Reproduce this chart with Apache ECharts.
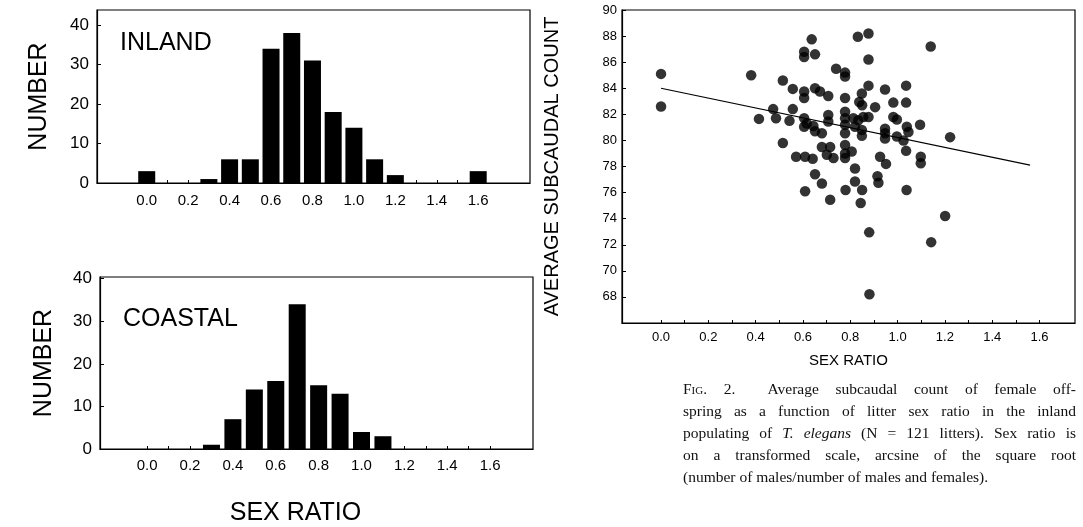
<!DOCTYPE html>
<html>
<head>
<meta charset="utf-8">
<script src="https://cdn.jsdelivr.net/npm/echarts@6/dist/echarts.min.js"></script>
<style>
html, body { margin: 0; padding: 0; background: #fff; }
#chart { position: absolute; left: 0; top: 0; width: 1083px; height: 527px; }
.caption {
  position: absolute; left: 683px; top: 378px; width: 393px;
  font-family: "Liberation Serif", serif; font-size: 15.5px; line-height: 22px; color: #111;
}
.caption div { text-align: justify; text-align-last: justify; white-space: nowrap; }
.caption div.last { text-align-last: left; }
.sc { font-variant: small-caps; }
</style>
</head>
<body>
<div id="chart"></div>
<div class="caption">
  <div><span class="sc">Fig. 2.</span>&nbsp; Average subcaudal count of female off-</div>
  <div>spring as a function of litter sex ratio in the inland</div>
  <div>populating of <i>T. elegans</i> (N = 121 litters). Sex ratio is</div>
  <div>on a transformed scale, arcsine of the square root</div>
  <div class="last">(number of males/number of males and females).</div>
</div>
<script>
// histogram bins (sex ratio, transformed)
var binCenters = [0.0, 0.1, 0.2, 0.3, 0.4, 0.5, 0.6, 0.7, 0.8, 0.9, 1.0, 1.1, 1.2, 1.3, 1.4, 1.5, 1.6];
var inlandCounts = [3, 0, 0, 1, 6, 6, 34, 38, 31, 18, 14, 6, 2, 0, 0, 0, 3];
var coastalCounts = [0, 0, 0, 1, 7, 14, 16, 34, 15, 13, 4, 3, 0, 0, 0, 0, 0];
var ratioTicks = [0.0, 0.2, 0.4, 0.6, 0.8, 1.0, 1.2, 1.4, 1.6];
var countTicks = [0, 10, 20, 30, 40];

// scatter: inland litters
var sexRatio = [
  0.0, 0.0, 0.381, 0.414, 0.474, 0.486, 0.515, 0.515, 0.557, 0.557,
  0.543, 0.571, 0.609, 0.641, 0.605, 0.605, 0.651, 0.637, 0.832, 0.877,
  1.140, 0.877, 0.740, 0.778, 0.778, 0.877, 0.605, 0.605, 0.651, 0.672,
  0.707, 0.778, 0.849, 0.838, 0.850, 0.947, 1.036, 0.905, 0.982, 1.036,
  0.605, 0.616, 0.605, 0.644, 0.651, 0.680, 0.707, 0.707, 0.778, 0.778,
  0.778, 0.778, 0.813, 0.834, 0.855, 0.877, 0.820, 0.849, 0.849, 0.982,
  0.997, 0.947, 0.947, 0.947, 1.039, 1.046, 1.095, 0.997, 1.025, 1.222,
  0.680, 0.715, 0.701, 0.729, 0.778, 0.778, 0.778, 0.806, 0.926, 0.951,
  1.036, 1.098, 1.098, 0.820, 0.651, 0.680, 0.820, 0.915, 0.919, 0.609,
  0.715, 0.780, 0.850, 1.038, 0.844, 1.201, 0.880, 1.142, 0.881
];
var subcaudal = [
  85.1, 82.6, 85.0, 81.65, 82.4, 81.7, 84.6, 79.8, 83.95, 82.4,
  81.5, 78.75, 78.75, 78.6, 86.8, 86.4, 86.6, 87.75, 87.95, 88.2,
  87.2, 86.2, 85.5, 85.2, 84.9, 84.2, 83.75, 83.25, 84.0, 83.75,
  83.4, 83.25, 83.6, 82.95, 82.7, 83.9, 84.2, 82.55, 82.9, 82.9,
  81.7, 81.3, 81.05, 81.1, 80.7, 80.55, 81.95, 81.45, 82.2, 81.7,
  81.2, 80.55, 81.7, 81.55, 81.8, 81.8, 81.05, 80.8, 80.35, 81.8,
  81.6, 80.9, 80.55, 80.15, 81.05, 80.65, 81.2, 80.3, 80.0, 80.25,
  79.5, 79.5, 78.9, 78.65, 79.65, 79.0, 78.65, 79.15, 78.75, 78.2,
  79.2, 78.75, 78.25, 77.85, 77.4, 76.7, 76.85, 77.25, 76.75, 76.1,
  75.45, 76.2, 76.2, 76.2, 75.2, 74.2, 72.95, 72.2, 68.2
];
var fitRatio = [0.0, 1.56];
var fitCount = [84.0, 78.1];
var subcaudalTicks = [68, 70, 72, 74, 76, 78, 80, 82, 84, 86, 88, 90];

var SANS = '"Liberation Sans", Arial, sans-serif';

function pairs(xs, ys) {
  var out = [];
  for (var i = 0; i < xs.length; i++) {
    if (ys[i] > 0) out.push([xs[i], ys[i]]);
  }
  return out;
}
function allPairs(xs, ys) {
  return xs.map(function (x, i) { return [x, ys[i]]; });
}

function ratioAxis(gridIndex, min, max, labelMargin, fontSize, extra) {
  var ax = {
    type: 'value', gridIndex: gridIndex, min: min, max: max,
    axisLine: { show: true, onZero: false, lineStyle: { color: '#000', width: 1.2 } },
    axisTick: { show: true, inside: true, length: 3, customValues: binCenters, lineStyle: { color: '#000' } },
    axisLabel: {
      customValues: ratioTicks, margin: labelMargin, color: '#000',
      fontFamily: SANS, fontSize: fontSize,
      formatter: function (v) { return v.toFixed(1); }
    },
    splitLine: { show: false }
  };
  for (var k in extra) ax[k] = extra[k];
  return ax;
}

function countAxis(gridIndex, max, nameGap) {
  return {
    type: 'value', gridIndex: gridIndex, min: 0, max: max,
    name: 'NUMBER', nameLocation: 'middle', nameGap: nameGap, nameRotate: 90,
    nameTextStyle: { fontFamily: SANS, fontSize: 25, color: '#000' },
    axisLine: { show: true, onZero: false, lineStyle: { color: '#000', width: 1.2 } },
    axisTick: { show: true, inside: true, length: 4, customValues: countTicks, lineStyle: { color: '#000' } },
    axisLabel: { customValues: countTicks, margin: 8, color: '#000', fontFamily: SANS, fontSize: 17 },
    splitLine: { show: false }
  };
}

var myChart = echarts.init(document.getElementById('chart'));
myChart.setOption({
  animation: false,
  backgroundColor: '#fff',
  grid: [
    { left: 97, top: 10, width: 433, height: 173, show: true, borderColor: '#000', borderWidth: 1.2 },
    { left: 100, top: 277, width: 433, height: 174, show: true, borderColor: '#000', borderWidth: 1.2 },
    { left: 622, top: 10, width: 453, height: 313, show: true, borderColor: '#000', borderWidth: 1.2 }
  ],
  xAxis: [
    ratioAxis(0, -0.24, 1.85, 10, 15, {}),
    ratioAxis(1, -0.22, 1.80, 9, 15, {
      name: 'SEX RATIO', nameLocation: 'middle', nameGap: 52,
      nameTextStyle: { fontFamily: SANS, fontSize: 25, color: '#000', padding: [0, 42, 0, 0] }
    }),
    ratioAxis(2, -0.165, 1.75, 8, 13, {
      name: 'SEX RATIO', nameLocation: 'middle', nameGap: 30,
      nameTextStyle: { fontFamily: SANS, fontSize: 15, color: '#000' }
    })
  ],
  yAxis: [
    countAxis(0, 43.8, 45),
    countAxis(1, 40.4, 43),
    {
      type: 'value', gridIndex: 2, min: 66, max: 90,
      name: 'AVERAGE SUBCAUDAL COUNT', nameLocation: 'middle', nameGap: 60, nameRotate: 90,
      nameTextStyle: { fontFamily: SANS, fontSize: 20, color: '#000' },
      axisLine: { show: true, onZero: false, lineStyle: { color: '#000', width: 1.2 } },
      axisTick: { show: true, inside: true, length: 4, customValues: subcaudalTicks, lineStyle: { color: '#000' } },
      axisLabel: { customValues: subcaudalTicks, margin: 5, color: '#000', fontFamily: SANS, fontSize: 13 },
      splitLine: { show: false }
    }
  ],
  graphic: [
    { type: 'text', left: 120, top: 31, style: { text: 'INLAND', font: '25px ' + SANS, fill: '#000' } },
    { type: 'text', left: 123, top: 307, style: { text: 'COASTAL', font: '25px ' + SANS, fill: '#000' } }
  ],
  series: [
    {
      type: 'bar', xAxisIndex: 0, yAxisIndex: 0, barWidth: 17,
      itemStyle: { color: '#000' }, data: pairs(binCenters, inlandCounts)
    },
    {
      type: 'bar', xAxisIndex: 1, yAxisIndex: 1, barWidth: 17,
      itemStyle: { color: '#000' }, data: pairs(binCenters, coastalCounts)
    },
    {
      type: 'scatter', xAxisIndex: 2, yAxisIndex: 2, symbolSize: 10.5,
      itemStyle: { color: '#000' }, data: allPairs(sexRatio, subcaudal)
    },
    {
      type: 'line', xAxisIndex: 2, yAxisIndex: 2, symbol: 'none',
      lineStyle: { color: '#000', width: 1.2 }, data: allPairs(fitRatio, fitCount)
    }
  ]
});
</script>
</body>
</html>
